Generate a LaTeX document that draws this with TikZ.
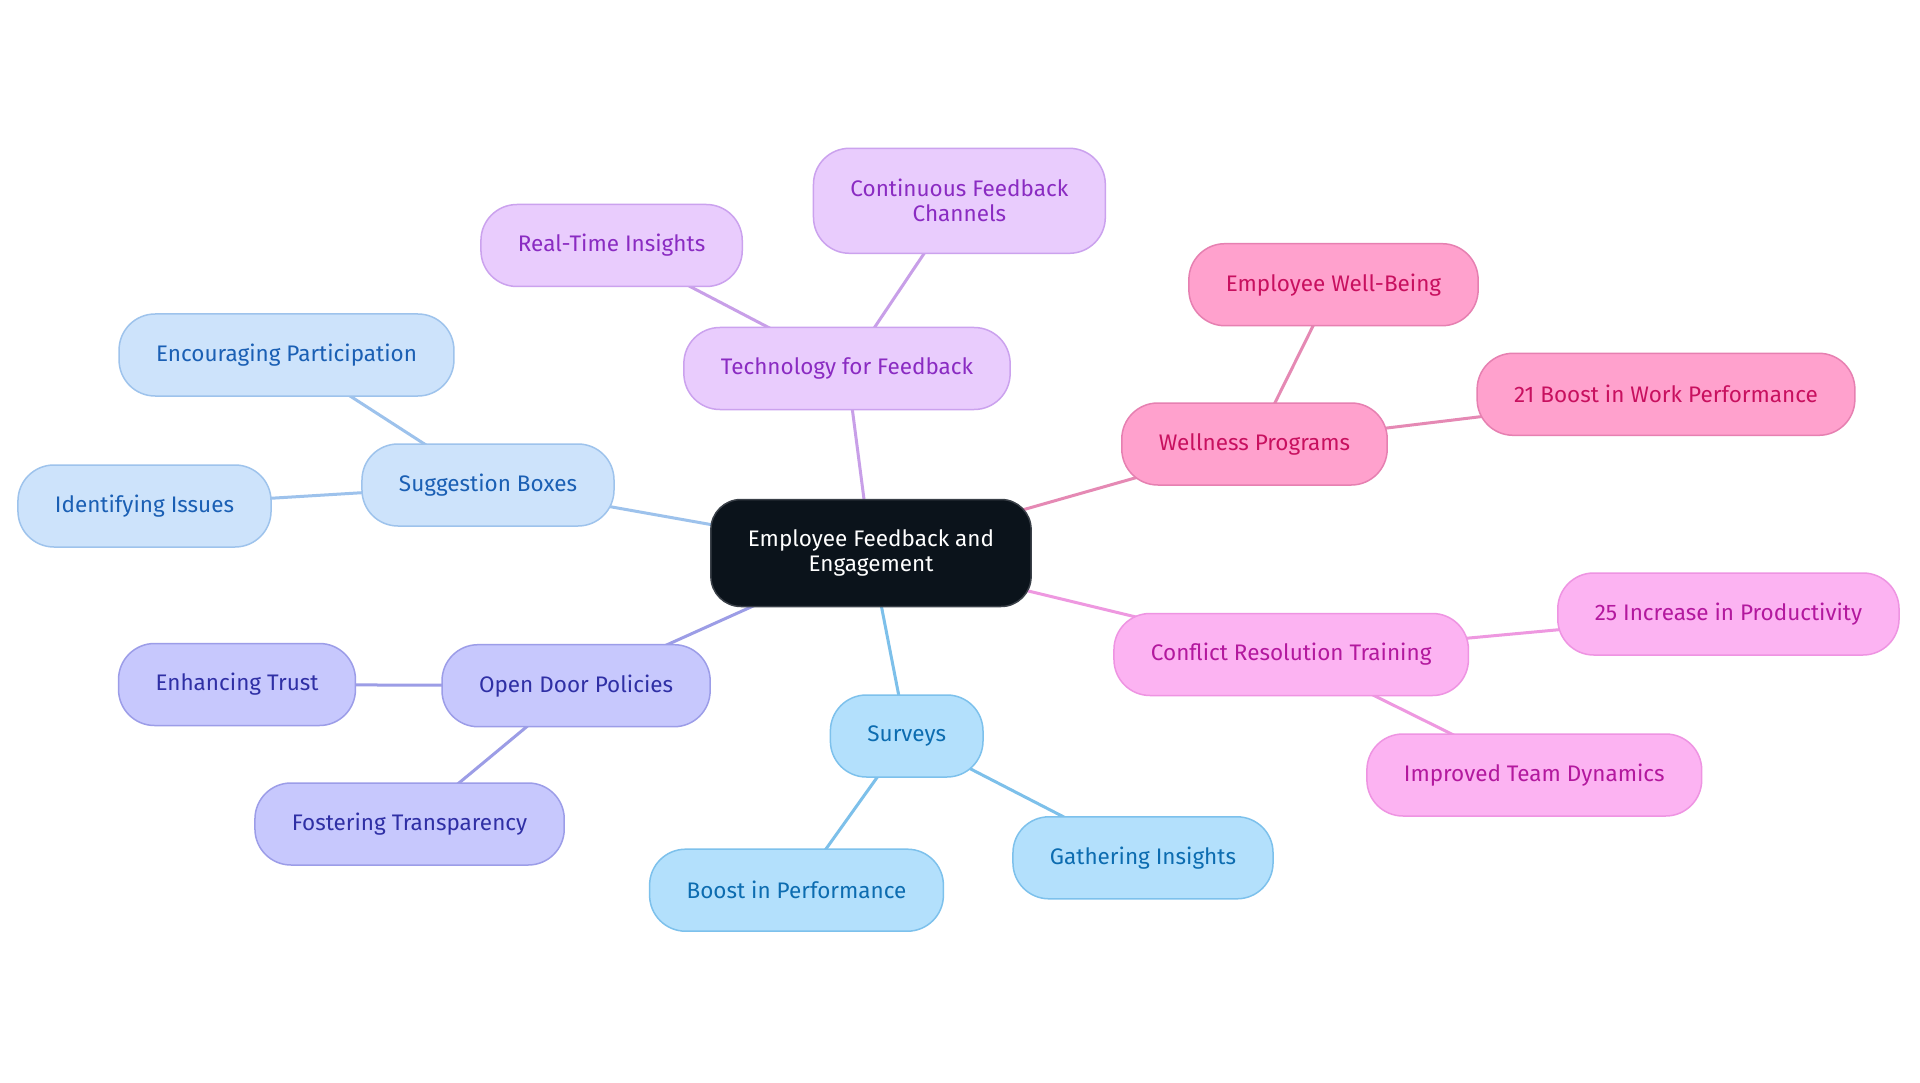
\documentclass[tikz,border=0pt]{standalone}
\usepackage{fontspec}
\setmainfont{Fira Sans}
\usetikzlibrary{backgrounds}
\definecolor{cfill}{HTML}{0B131B}
\definecolor{cdraw}{HTML}{3A4048}
\definecolor{aFill}{HTML}{CDE3FB}\definecolor{aDraw}{HTML}{9EC3EC}\definecolor{aText}{HTML}{1A5FB4}\definecolor{aEdge}{HTML}{9DC2EC}
\definecolor{bFill}{HTML}{E9CCFD}\definecolor{bDraw}{HTML}{CBA2EE}\definecolor{bText}{HTML}{8A2BC2}\definecolor{bEdge}{HTML}{C89FE8}
\definecolor{dFill}{HTML}{FFA1CD}\definecolor{dDraw}{HTML}{E680B1}\definecolor{dText}{HTML}{C8105F}\definecolor{dEdge}{HTML}{E589B4}
\definecolor{eFill}{HTML}{FCB3F2}\definecolor{eDraw}{HTML}{EE94E2}\definecolor{eText}{HTML}{B3189E}\definecolor{eEdge}{HTML}{EE98E0}
\definecolor{fFill}{HTML}{B3E0FC}\definecolor{fDraw}{HTML}{7DC1EC}\definecolor{fText}{HTML}{0C6CB0}\definecolor{fEdge}{HTML}{7DC0EA}
\definecolor{gFill}{HTML}{C7C8FD}\definecolor{gDraw}{HTML}{9C9DE8}\definecolor{gText}{HTML}{2F2FA5}\definecolor{gEdge}{HTML}{9C9DE6}
\begin{document}
\begin{tikzpicture}[x=1pt,y=-1pt,
  box/.style={line width=1.5pt, rounded corners=36pt, minimum height=82pt, inner xsep=37pt, inner ysep=0pt, align=center, font=\fontsize{22.5}{25}\selectfont},
  root/.style={box, rounded corners=30pt, minimum height=107pt, fill=cfill, draw=cdraw, text=white},
  ga/.style={box, fill=aFill, draw=aDraw, text=aText},
  gb/.style={box, fill=bFill, draw=bDraw, text=bText},
  gd/.style={box, fill=dFill, draw=dDraw, text=dText},
  ge/.style={box, fill=eFill, draw=eDraw, text=eText},
  gf/.style={box, fill=fFill, draw=fDraw, text=fText},
  gg/.style={box, fill=gFill, draw=gDraw, text=gText},
  link/.style={line width=3pt}]
\useasboundingbox (0,0) rectangle (1920,1083);
\node[root] (c) at (871,553) {Employee Feedback and\\Engagement};
\node[ga] (sb) at (488,485) {Suggestion Boxes};
\node[ga] (ep) at (286.5,355) {Encouraging Participation};
\node[ga] (ii) at (144.5,506) {Identifying Issues};
\node[gb] (tf) at (847,368.5) {Technology for Feedback};
\node[gb] (rt) at (611.6,245.5) {Real-Time Insights};
\node[gb, minimum height=105pt] (cf) at (959.4,200.8) {Continuous Feedback\\Channels};
\node[gd] (wp) at (1254.5,444) {Wellness Programs};
\node[gd] (ew) at (1333.5,284.7) {Employee Well-Being};
\node[gd] (bw) at (1666,394.3) {21 Boost in Work Performance};
\node[ge] (cr) at (1291.2,654.5) {Conflict Resolution Training};
\node[ge] (ip) at (1728.4,614) {25 Increase in Productivity};
\node[ge] (td) at (1534.3,775) {Improved Team Dynamics};
\node[gf] (sv) at (906.7,736) {Surveys};
\node[gf] (bp) at (796.5,890.2) {Boost in Performance};
\node[gf] (gi) at (1143,857.8) {Gathering Insights};
\node[gg] (od) at (576.1,685.7) {Open Door Policies};
\node[gg] (et) at (237,684.5) {Enhancing Trust};
\node[gg] (ft) at (409.6,824) {Fostering Transparency};
\begin{scope}[on background layer]
\fill[white] (0,0) rectangle (1920,1083);
\draw[link, aEdge] (c.center) -- (sb.center) (sb.center) -- (ep.center) (sb.center) -- (ii.center);
\draw[link, bEdge] (c.center) -- (tf.center) (tf.center) -- (rt.center) (tf.center) -- (cf.center);
\draw[link, dEdge] (c.center) -- (wp.center) (wp.center) -- (ew.center) (wp.center) -- (bw.center);
\draw[link, eEdge] (c.center) -- (cr.center) (cr.center) -- (ip.center) (cr.center) -- (td.center);
\draw[link, fEdge] (c.center) -- (sv.center) (sv.center) -- (bp.center) (sv.center) -- (gi.center);
\draw[link, gEdge] (c.center) -- (od.center) (od.center) -- (et.center) (od.center) -- (ft.center);
\end{scope}
\end{tikzpicture}
\end{document}
